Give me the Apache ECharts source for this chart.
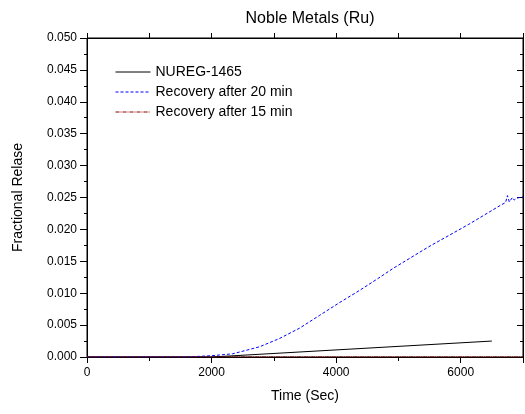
<!DOCTYPE html>
<html>
<head>
<meta charset="utf-8">
<script src="https://cdn.jsdelivr.net/npm/echarts@6/dist/echarts.min.js"></script>
<style>
  html, body { margin: 0; padding: 0; background: #fff; }
  #main { width: 525px; height: 414px; }
</style>
</head>
<body>
<div id="main"></div>
<script>
// values
var seriesNames = ['NUREG-1465', 'Recovery after 20 min', 'Recovery after 15 min'];

var nuregTime = [0, 2000, 6500];
var nuregVal = [0, 0, 0.0025];

var rec20Time = [0, 1600, 1800, 2000, 2340, 2770, 3090, 3410, 3730, 4050, 4370, 4640, 4900, 5490, 6130, 6660, 6720, 6750, 6780, 6800, 6830, 6860, 6900, 7000];
var rec20Val = [0, 0, 0.0001, 0.0002, 0.0005, 0.0016, 0.0029, 0.0045, 0.0065, 0.0085, 0.0104, 0.0121, 0.0138, 0.0173, 0.0208, 0.0239, 0.0242, 0.0253, 0.0243, 0.0245, 0.0250, 0.0246, 0.0249, 0.0251];

var rec15Time = [0, 7000];
var rec15Val = [0, 0];

function pairs(xs, ys) {
  return xs.map(function (x, i) { return [x, ys[i]]; });
}

var myChart = echarts.init(document.getElementById('main'));

var fontFam = 'Liberation Sans, Arial, sans-serif';

myChart.setOption({
  animation: false,
  textStyle: { fontFamily: fontFam, color: '#000' },
  title: {
    text: 'Noble Metals (Ru)',
    left: 305,
    textAlign: 'center',
    top: 6,
    textStyle: { fontSize: 16, fontWeight: 'normal', color: '#000', fontFamily: fontFam }
  },
  legend: {
    orient: 'vertical',
    left: 115,
    top: 65,
    padding: 0,
    itemWidth: 35,
    itemHeight: 10,
    itemGap: 6,
    data: seriesNames,
    itemStyle: { opacity: 0 },
    lineStyle: { width: 1 },
    textStyle: { fontSize: 14, color: '#000', fontFamily: fontFam }
  },
  grid: {
    left: 87, right: 2, top: 38, bottom: 57,
    show: true, borderColor: '#000', borderWidth: 1,
    containLabel: false, outerBoundsMode: 'none'
  },
  xAxis: [{
    type: 'value',
    min: 0, max: 7000, interval: 2000,
    name: 'Time (Sec)',
    nameLocation: 'middle',
    nameGap: 32,
    nameTextStyle: { fontSize: 14, color: '#000' },
    axisLine: { lineStyle: { color: '#000', width: 1 } },
    axisTick: { length: 6, lineStyle: { color: '#000' } },
    minorTick: { show: true, splitNumber: 2, length: 4, lineStyle: { color: '#000' } },
    axisLabel: { fontSize: 12, color: '#000', margin: 10, showMaxLabel: false, formatter: function (v) { return String(v); } },
    splitLine: { show: false }
  }, {
    type: 'value',
    show: true,
    position: 'top',
    min: 0, max: 7000, interval: 2000,
    axisLine: { show: true, onZero: false, lineStyle: { color: '#000', width: 1 } },
    axisTick: { show: true, length: 5, lineStyle: { color: '#000' } },
    minorTick: { show: true, splitNumber: 2, length: 5, lineStyle: { color: '#000' } },
    axisLabel: { show: false },
    splitLine: { show: false }
  }],
  yAxis: [{
    type: 'value',
    min: 0, max: 0.05, interval: 0.005,
    name: 'Fractional Relase',
    nameLocation: 'middle',
    nameGap: 62,
    nameTextStyle: { fontSize: 14, color: '#000' },
    axisLine: { show: true, lineStyle: { color: '#000', width: 1 } },
    axisTick: { show: true, length: 7, lineStyle: { color: '#000' } },
    minorTick: { show: true, splitNumber: 2, length: 3, lineStyle: { color: '#000' } },
    axisLabel: { fontSize: 12, color: '#000', margin: 10, formatter: function (v) { return v.toFixed(3); } },
    splitLine: { show: false }
  }, {
    type: 'value',
    show: true,
    position: 'right',
    min: 0, max: 0.05, interval: 0.005,
    axisLine: { show: true, onZero: false, lineStyle: { color: '#000', width: 1 } },
    axisTick: { show: true, inside: true, length: 6, lineStyle: { color: '#000' } },
    minorTick: { show: true, splitNumber: 2, length: 3, lineStyle: { color: '#000' } },
    axisLabel: { show: false },
    splitLine: { show: false }
  }],
  series: [{
    name: seriesNames[0],
    type: 'line',
    data: pairs(nuregTime, nuregVal),
    symbol: 'none',
    lineStyle: { color: '#000', width: 1 },
    itemStyle: { color: '#000' },
    z: 3
  }, {
    name: seriesNames[1],
    type: 'line',
    data: pairs(rec20Time, rec20Val),
    symbol: 'none',
    lineStyle: { color: '#0000ff', width: 1, type: [3, 2] },
    itemStyle: { color: '#0000ff' },
    z: 4
  }, {
    name: seriesNames[2],
    type: 'line',
    data: pairs(rec15Time, rec15Val),
    symbol: 'none',
    lineStyle: { color: '#8b0000', width: 1, type: [4, 1, 1, 1] },
    itemStyle: { color: '#8b0000' },
    z: 5
  }]
});
</script>
</body>
</html>
